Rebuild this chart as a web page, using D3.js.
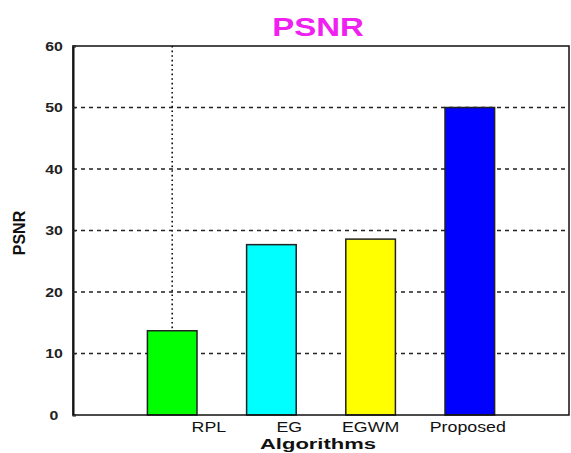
<!DOCTYPE html>
<html>
<head>
<meta charset="utf-8">
<script src="https://cdn.jsdelivr.net/npm/d3@7"></script>
<style>
  body { margin: 0; background: #fff; }
  svg { display: block; }
  text { font-family: "Liberation Sans", Arial, sans-serif; }
</style>
</head>
<body>
<div id="chart"></div>
<script>
// data
const categories = ["RPL", "EG", "EGWM", "Proposed"];
const psnrValues = [13.7, 27.7, 28.6, 50];
const barColors = ["#00ff00", "#00ffff", "#ffff00", "#0000ff"];
const barX = [1, 2, 3, 4];
// the category texts sit off the bars in the original (placed by hand)
const labelX = [1.37, 2.18, 3.0, 3.98];
const yTicks = [0, 10, 20, 30, 40, 50, 60];

const W = 571, H = 453;
const margin = { top: 46, right: 2, bottom: 38, left: 73 };
const width = W - margin.left - margin.right;
const height = H - margin.top - margin.bottom;
// the source image is stretched sideways, so horizontal texts get widened
const stretch = 1.27;

const svg = d3.select("#chart").append("svg")
    .attr("width", W)
    .attr("height", H);

const g = svg.append("g")
    .attr("transform", `translate(${margin.left},${margin.top})`);

const xScale = d3.scaleLinear().domain([0, 5]).range([0, width]);
const yScale = d3.scaleLinear().domain([0, 60]).range([height, 0]);
const barW = xScale(0.5) - xScale(0);

function wideText(parent, x, y, str, size, weight, fill, sx) {
    return parent.append("text")
        .attr("transform", `translate(${x},${y}) scale(${sx || stretch},1)`)
        .attr("text-anchor", "middle")
        .attr("font-size", size)
        .attr("font-weight", weight)
        .attr("fill", fill)
        .text(str);
}

// dashed horizontal grid
g.selectAll(".grid-h")
    .data(yTicks.filter(d => d > 0 && d < 60))
    .enter()
    .append("line")
    .attr("class", "grid-h")
    .attr("x1", 0)
    .attr("x2", width)
    .attr("y1", d => yScale(d))
    .attr("y2", d => yScale(d))
    .attr("stroke", "#222")
    .attr("stroke-width", 1.3)
    .attr("stroke-dasharray", "4,4");

// dotted vertical grid at the first bar
g.append("line")
    .attr("x1", xScale(barX[0]))
    .attr("x2", xScale(barX[0]))
    .attr("y1", 0)
    .attr("y2", height)
    .attr("stroke", "#111")
    .attr("stroke-width", 1.6)
    .attr("stroke-dasharray", "1.6,3");

// bars
g.selectAll(".bar")
    .data(psnrValues)
    .enter()
    .append("rect")
    .attr("class", "bar")
    .attr("x", (d, i) => xScale(barX[i]) - barW / 2)
    .attr("y", d => yScale(d))
    .attr("width", barW)
    .attr("height", d => height - yScale(d))
    .attr("fill", (d, i) => barColors[i])
    .attr("stroke", "#222")
    .attr("stroke-width", 1.5);

// box around the axes
g.append("rect")
    .attr("x", 0)
    .attr("y", 0)
    .attr("width", width)
    .attr("height", height)
    .attr("fill", "none")
    .attr("stroke", "#111")
    .attr("stroke-width", 1.5);

// y axis
const yAxis = d3.axisLeft(yScale)
    .tickValues(yTicks)
    .tickSize(-3)
    .tickFormat("");

const yAxisG = g.append("g").attr("class", "y-axis").call(yAxis);
yAxisG.select(".domain").attr("stroke", "#111").attr("stroke-width", 2);
yAxisG.selectAll(".tick line").attr("stroke", "#333");

yTicks.forEach(t => {
    wideText(g, -19, yScale(t) + 4.5, d3.format("d")(t), 13, "bold", "#222", 1.22);
});

// category texts
categories.forEach((c, i) => {
    wideText(g, xScale(labelX[i]), height + 17, c, 14, "normal", "#111");
});

// title
wideText(svg, 318, 36, "PSNR", 25, "bold", "#f020f0", 1.32);

// axis titles
wideText(svg, 318, 449, "Algorithms", 15.5, "bold", "#111", 1.42);

svg.append("text")
    .attr("transform", "translate(25,233) rotate(-90)")
    .attr("text-anchor", "middle")
    .attr("font-size", 16)
    .attr("font-weight", "bold")
    .attr("fill", "#111")
    .text("PSNR");
</script>
</body>
</html>
